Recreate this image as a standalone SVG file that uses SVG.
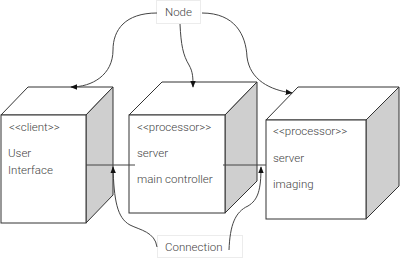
<svg xmlns="http://www.w3.org/2000/svg" width="400" height="261" viewBox="0 0 400 261">
<defs>
<style>
.f{fill:#fff;stroke:#333;stroke-width:1}
.s{fill:#cfcfcf;stroke:#333;stroke-width:1}
.t{font-family:Roboto,"Liberation Sans",sans-serif;font-weight:300;font-size:11.5px;fill:#444}
.c{fill:none;stroke:#444;stroke-width:1}
.lb{fill:#fff;stroke:#ececec;stroke-width:1}
</style>
<marker id="ah" viewBox="0 0 10 10" refX="9" refY="5" markerWidth="7" markerHeight="7" orient="auto" markerUnits="userSpaceOnUse">
<path d="M0,1 L10,5 L0,9 Z" fill="#111"/>
</marker>
</defs>
<rect width="400" height="261" fill="#fff"/>
<g id="client">
<polygon class="f" points="1,115 28,87 113,87 86,115"/>
<polygon class="s" points="86,115 113,87 113,195 86,223"/>
<rect class="f" x="1" y="115" width="85" height="108"/>
<text class="t" x="9" y="131">&lt;&lt;client&gt;&gt;</text>
<text class="t" x="8" y="157">User</text>
<text class="t" x="8" y="174">Interface</text>
</g>
<g id="main">
<polygon class="f" points="129,115 162,82 257,82 225,115"/>
<polygon class="s" points="225,115 257,82 257,181 225,213"/>
<rect class="f" x="129" y="115" width="96" height="98"/>
<text class="t" x="137" y="131">&lt;&lt;processor&gt;&gt;</text>
<text class="t" x="137" y="157">server</text>
<text class="t" x="137" y="183">main controller</text>
</g>
<g id="imaging">
<polygon class="f" points="266,120 298,87 399,87 366,120"/>
<polygon class="s" points="366,120 399,87 399,186 366,219"/>
<rect class="f" x="266" y="120" width="100" height="99"/>
<text class="t" x="273" y="135">&lt;&lt;processor&gt;&gt;</text>
<text class="t" x="273" y="162">server</text>
<text class="t" x="273" y="188">imaging</text>
</g>
<g id="labels">
<rect class="lb" x="156.5" y="0.5" width="44" height="23"/>
<text class="t" x="165" y="16">Node</text>
<rect class="lb" x="157.5" y="235.5" width="85" height="22"/>
<text class="t" x="165" y="251">Connection</text>
</g>
<g id="connectors">
<line class="c" x1="86" y1="165" x2="135" y2="165"/>
<line class="c" x1="223" y1="165" x2="266" y2="165"/>
<path class="c" d="M157,13 C125,13 113,30 113,50 C113,75 92,87 71,87" marker-end="url(#ah)"/>
<path class="c" d="M180,24 C181,45 183,55 189,65 C193,72 193,78 193,87" marker-end="url(#ah)"/>
<path class="c" d="M202,13 C235,13 246,35 247,57 C250,80 270,90 292,93" marker-end="url(#ah)"/>
<path class="c" d="M157,247 C155,232 140,230 130,225 C117,218 114,200 113,167" marker-end="url(#ah)"/>
<path class="c" d="M229,250 C230,225 235,212 248,206 C258,200 261,190 261,167" marker-end="url(#ah)"/>
</g>
</svg>
